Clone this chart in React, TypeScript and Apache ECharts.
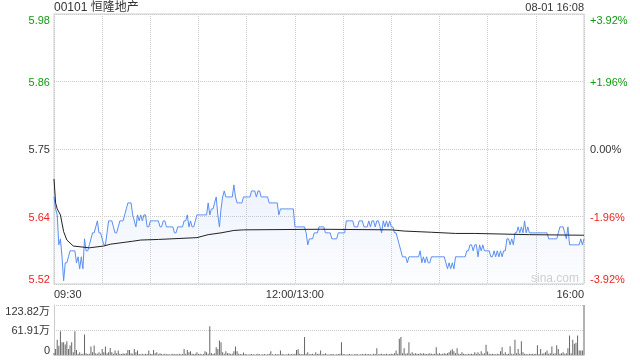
import React, { useEffect, useRef } from "react";
import * as echarts from "echarts";

const PREV_CLOSE = 5.75;
const titleText = "00101 恒隆地产";
const stampText = "08-01 16:08";
const timeLabelMap: Record<number, string> = { 0: "09:30", 150: "12:00/13:00", 330: "16:00" };
const TOTAL_MIN = 330;

// minute-by-minute last price (09:30 .. 16:00, lunch removed)
const prices = [
  5.67, 5.65, 5.64, 5.59, 5.60, 5.57, 5.53, 5.56, 5.56, 5.57,
  5.58, 5.58, 5.58, 5.58, 5.56, 5.57, 5.55, 5.57, 5.55, 5.60,
  5.58, 5.58, 5.59, 5.60, 5.61, 5.61, 5.62, 5.63, 5.61, 5.61,
  5.60, 5.59, 5.59, 5.61, 5.63, 5.63, 5.63, 5.62, 5.61, 5.61,
  5.62, 5.63, 5.63, 5.63, 5.64, 5.65, 5.66, 5.66, 5.66, 5.64,
  5.63, 5.62, 5.64, 5.63, 5.64, 5.63, 5.64, 5.64, 5.62, 5.62,
  5.63, 5.63, 5.63, 5.63, 5.63, 5.63, 5.62, 5.62, 5.63, 5.63,
  5.62, 5.62, 5.62, 5.62, 5.62, 5.61, 5.61, 5.62, 5.62, 5.62,
  5.62, 5.63, 5.63, 5.64, 5.62, 5.63, 5.62, 5.62, 5.63, 5.64,
  5.64, 5.64, 5.64, 5.64, 5.64, 5.64, 5.66, 5.64, 5.65, 5.65,
  5.66, 5.67, 5.64, 5.62, 5.65, 5.67, 5.68, 5.67, 5.67, 5.67,
  5.67, 5.67, 5.69, 5.67, 5.66, 5.66, 5.66, 5.66, 5.67, 5.67,
  5.67, 5.67, 5.67, 5.68, 5.68, 5.68, 5.67, 5.68, 5.68, 5.67,
  5.67, 5.67, 5.67, 5.67, 5.66, 5.66, 5.66, 5.66, 5.66, 5.66,
  5.64, 5.65, 5.65, 5.65, 5.65, 5.65, 5.65, 5.65, 5.65, 5.65,
  5.62, 5.62, 5.62, 5.62, 5.62, 5.62, 5.62, 5.61, 5.59, 5.60,
  5.60, 5.60, 5.61, 5.61, 5.61, 5.62, 5.62, 5.62, 5.62, 5.61,
  5.61, 5.61, 5.61, 5.60, 5.60, 5.60, 5.60, 5.61, 5.61, 5.61,
  5.61, 5.61, 5.63, 5.63, 5.63, 5.63, 5.63, 5.62, 5.62, 5.62,
  5.63, 5.63, 5.63, 5.62, 5.62, 5.62, 5.63, 5.62, 5.63, 5.63,
  5.62, 5.63, 5.63, 5.62, 5.61, 5.63, 5.62, 5.63, 5.62, 5.63,
  5.62, 5.62, 5.61, 5.61, 5.60, 5.59, 5.58, 5.57, 5.57, 5.57,
  5.56, 5.57, 5.57, 5.57, 5.57, 5.57, 5.57, 5.57, 5.58, 5.56,
  5.57, 5.56, 5.57, 5.56, 5.56, 5.57, 5.57, 5.57, 5.57, 5.57,
  5.57, 5.57, 5.57, 5.57, 5.56, 5.55, 5.56, 5.55, 5.56, 5.55,
  5.57, 5.57, 5.57, 5.57, 5.57, 5.57, 5.57, 5.58, 5.58, 5.59,
  5.59, 5.58, 5.59, 5.59, 5.57, 5.59, 5.58, 5.59, 5.58, 5.58,
  5.58, 5.58, 5.57, 5.57, 5.58, 5.57, 5.58, 5.57, 5.58, 5.57,
  5.58, 5.58, 5.60, 5.60, 5.59, 5.60, 5.59, 5.61, 5.61, 5.62,
  5.61, 5.62, 5.61, 5.63, 5.61, 5.62, 5.61, 5.61, 5.61, 5.61,
  5.61, 5.61, 5.61, 5.61, 5.61, 5.61, 5.61, 5.61, 5.60, 5.60,
  5.60, 5.60, 5.60, 5.60, 5.61, 5.62, 5.62, 5.62, 5.61, 5.60,
  5.62, 5.59, 5.59, 5.59, 5.59, 5.59, 5.59, 5.59, 5.60, 5.59,
  5.60,
];

// average price line, read at [minute, price]
const avgPoints: [number, number][] = [
  [0, 5.700], [1, 5.660], [2, 5.650], [4, 5.640], [6, 5.612], [8, 5.598],
  [12, 5.588], [22, 5.585], [31, 5.588], [35, 5.591], [49, 5.596], [54, 5.598],
  [65, 5.599], [89, 5.602], [96, 5.607], [104, 5.610], [112, 5.614], [118, 5.615],
  [166, 5.616], [210, 5.615], [218, 5.613], [235, 5.611], [250, 5.609],
  [262, 5.609], [296, 5.607], [330, 5.606],
];

// minute volume, in 万 shares
const volumes = [
  5, 15, 37.6, 23, 58.6, 31.8, 31.8, 25.9, 34.3, 15,
  23.4, 31.8, 6.7, 58.6, 12.5, 3, 6.7, 2.5, 3, 51,
  4.2, 2.5, 3, 20.9, 6.7, 23.4, 4.2, 3, 6.7, 3,
  15, 6.7, 20.9, 4.2, 6.7, 17.6, 6.7, 3, 10.9, 4.2,
  10.9, 3, 2.5, 4.2, 3, 4.2, 12.5, 12.5, 4.2, 3,
  15, 6.7, 10.9, 2.5, 2, 3, 2, 3, 2.5, 10.9,
  3, 2.5, 12.5, 4.2, 6.7, 2, 4.2, 2.5, 2, 3,
  2, 2.5, 1.5, 2, 3, 2, 2.5, 2, 3, 2,
  2.5, 15, 3, 12.5, 6.7, 9.2, 3, 2.5, 3, 6.7,
  2.5, 3, 2, 2.5, 9.2, 6.7, 3, 71.1, 5, 2.5,
  4.2, 19.2, 15, 36, 31.8, 6.7, 3, 9.2, 4.2, 4.2,
  2.5, 3, 9.2, 20.9, 9.2, 3, 2.5, 2, 5.9, 2.5,
  2, 1.5, 2, 2.5, 2, 1.5, 2, 3, 2, 1.5,
  2, 2.5, 1.5, 2, 3, 9.2, 2, 1.5, 2.5, 2,
  2, 10.9, 2.5, 2, 1.5, 2, 3, 2, 2.5, 2,
  3, 12.5, 14.2, 3, 2, 2.5, 44.3, 3, 6.7, 2,
  2.5, 3, 2, 6.7, 2.5, 3, 10.9, 2, 2.5, 4.2,
  2, 1.5, 2, 2.5, 2, 1.5, 2, 2.5, 3, 31.8,
  2.5, 2, 1.5, 2, 2.5, 2, 1.5, 2, 2.5, 2,
  1.5, 2, 2.5, 2, 3, 2, 2.5, 2, 1.5, 3,
  2.5, 16.7, 2, 2.5, 3, 2, 2.5, 3, 2, 2.5,
  3, 2.5, 4.2, 10.9, 3, 40.2, 44.3, 4.2, 16.7, 3,
  4.2, 31.8, 3, 6.7, 3, 4.2, 3, 2.5, 4.2, 3,
  4.2, 3, 2.5, 3, 4.2, 3, 2.5, 3, 19.2, 3,
  4.2, 2.5, 3, 4.2, 3, 4.2, 6.7, 10.9, 14.2, 9.2,
  4.2, 16.7, 3, 2.5, 6.7, 3, 2.5, 2, 3, 2.5,
  3, 2.5, 6.7, 3, 6.7, 2.5, 9.2, 3, 4.2, 25.1,
  8.4, 3, 2.5, 3, 2.5, 2, 3, 2.5, 9.2, 19.2,
  3, 6.7, 2.5, 3, 21.8, 3, 2.5, 37.6, 4.2, 15,
  3, 34.3, 6.7, 3, 2.5, 2, 3, 2.5, 3, 2.5,
  3, 24.3, 2.5, 15, 3, 4.2, 6.7, 10.9, 3, 4.2,
  20.9, 3, 4.2, 24.3, 15, 3, 4.2, 6.7, 3, 4.2,
  16.7, 48.5, 4.2, 37.6, 27.6, 30.1, 48.5, 10.9, 10.9, 10.9,
  123.82,
];

const VOL_MAX = 123.82;
const PCT_LIMIT = 3.92;

const FONT = "Arial, 'Liberation Sans', 'Noto Sans CJK SC', sans-serif";
const GREEN = "#129912";
const RED = "#ee2222";
const TEXT = "#333333";

const toPct = (p: number) => (p / PREV_CLOSE - 1) * 100;

export default function App() {
  const ref = useRef<HTMLDivElement>(null);
  useEffect(() => {
    const chart = echarts.init(ref.current!, null, { renderer: "svg" });
    const colorOf = (v: any) => {
      const n = Number(v);
      if (n > 0.001) return GREEN;
      if (n < -0.001) return RED;
      return TEXT;
    };
    chart.setOption({
      animation: false,
      textStyle: { fontFamily: FONT },
      title: [
        {
          text: titleText, left: 54, top: 1, padding: 0,
          textStyle: { fontSize: 12, fontWeight: "normal", color: TEXT, fontFamily: FONT },
        },
        {
          text: stampText, right: 56, top: 1, padding: 0,
          textStyle: { fontSize: 11, fontWeight: "normal", color: TEXT, fontFamily: FONT },
        },
      ],
      grid: [
        { left: 54, right: 56, top: 14, height: 270, show: true, borderColor: "#cccccc", borderWidth: 1 },
        { left: 54, right: 56, top: 305, height: 50 },
      ],
      xAxis: [
        {
          type: "value", gridIndex: 0, min: 0, max: TOTAL_MIN, interval: 30,
          axisLine: { show: false }, axisTick: { show: false },
          splitLine: { show: true, lineStyle: { type: "dotted", color: "#cccccc" } },
          axisLabel: {
            show: true, color: TEXT, fontSize: 11, margin: 4, fontFamily: FONT,
            showMinLabel: true, showMaxLabel: true, hideOverlap: false,
            alignMinLabel: "left", alignMaxLabel: "right",
            formatter: (v: number) => timeLabelMap[Math.round(v)] ?? "",
          },
        },
        {
          type: "value", gridIndex: 1, min: 0, max: TOTAL_MIN, interval: 30,
          axisLine: { show: true, lineStyle: { color: "#cccccc" } },
          axisTick: { show: false }, axisLabel: { show: false }, splitLine: { show: false },
        },
      ],
      yAxis: [
        {
          type: "value", gridIndex: 0, position: "left",
          min: -PCT_LIMIT, max: PCT_LIMIT, interval: PCT_LIMIT / 2,
          axisLine: { show: false }, axisTick: { show: false },
          splitLine: { show: true, lineStyle: { type: "dotted", color: "#cccccc" } },
          axisLabel: {
            fontSize: 11, margin: 4, fontFamily: FONT,
            verticalAlignMinLabel: "bottom", verticalAlignMaxLabel: "top",
            color: colorOf,
            formatter: (v: number) => (PREV_CLOSE * (1 + v / 100)).toFixed(2),
          },
        },
        {
          type: "value", gridIndex: 0, position: "right",
          min: -PCT_LIMIT, max: PCT_LIMIT, interval: PCT_LIMIT / 2,
          axisLine: { show: false }, axisTick: { show: false }, splitLine: { show: false },
          axisLabel: {
            fontSize: 11, margin: 6, fontFamily: FONT,
            verticalAlignMinLabel: "bottom", verticalAlignMaxLabel: "top",
            color: colorOf,
            formatter: (v: number) =>
              Math.abs(v) < 0.001 ? "0.00%" : (v > 0 ? "+" : "") + v.toFixed(2) + "%",
          },
        },
        {
          type: "value", gridIndex: 1, min: 0, max: VOL_MAX, interval: VOL_MAX / 2,
          axisLine: { show: true, lineStyle: { color: "#cccccc" } }, axisTick: { show: false },
          splitLine: { show: true, lineStyle: { type: "dotted", color: "#cccccc" } },
          axisLabel: {
            fontSize: 11, margin: 4, color: TEXT, fontFamily: FONT,
            verticalAlignMinLabel: "bottom", verticalAlignMaxLabel: "top",
            formatter: (v: number) => (v < 0.01 ? "0" : v.toFixed(2) + "万"),
          },
        },
      ],
      series: [
        {
          type: "line", xAxisIndex: 0, yAxisIndex: 0, symbol: "none",
          data: prices.map((p, i) => [i, toPct(p)]),
          lineStyle: { color: "#5a8ef0", width: 1 },
          areaStyle: {
            origin: "start",
            color: new echarts.graphic.LinearGradient(0, 0, 0, 1, [
              { offset: 0, color: "rgba(90,142,240,0.16)" },
              { offset: 1, color: "rgba(90,142,240,0.02)" },
            ]),
          },
          z: 3,
        },
        {
          type: "line", xAxisIndex: 0, yAxisIndex: 0, symbol: "none",
          data: avgPoints.map(([m, p]) => [m, toPct(p)]),
          lineStyle: { color: "#222222", width: 1 },
          z: 4,
        },
        {
          type: "bar", xAxisIndex: 1, yAxisIndex: 2, barWidth: 1,
          data: volumes.map((v, i) => [i, v]),
          itemStyle: { color: "#666666" },
        },
      ],
      graphic: [
        {
          type: "text", left: 531, top: 272,
          style: { text: "sina.com", fill: "#d0d0d0", font: `12px ${FONT}` },
          silent: true,
        },
      ],
    });
    return () => chart.dispose();
  }, []);
  return (
    <div
      ref={ref}
      style={{ position: "fixed", left: 0, top: 0, width: 640, height: 360 }}
    />
  );
}
